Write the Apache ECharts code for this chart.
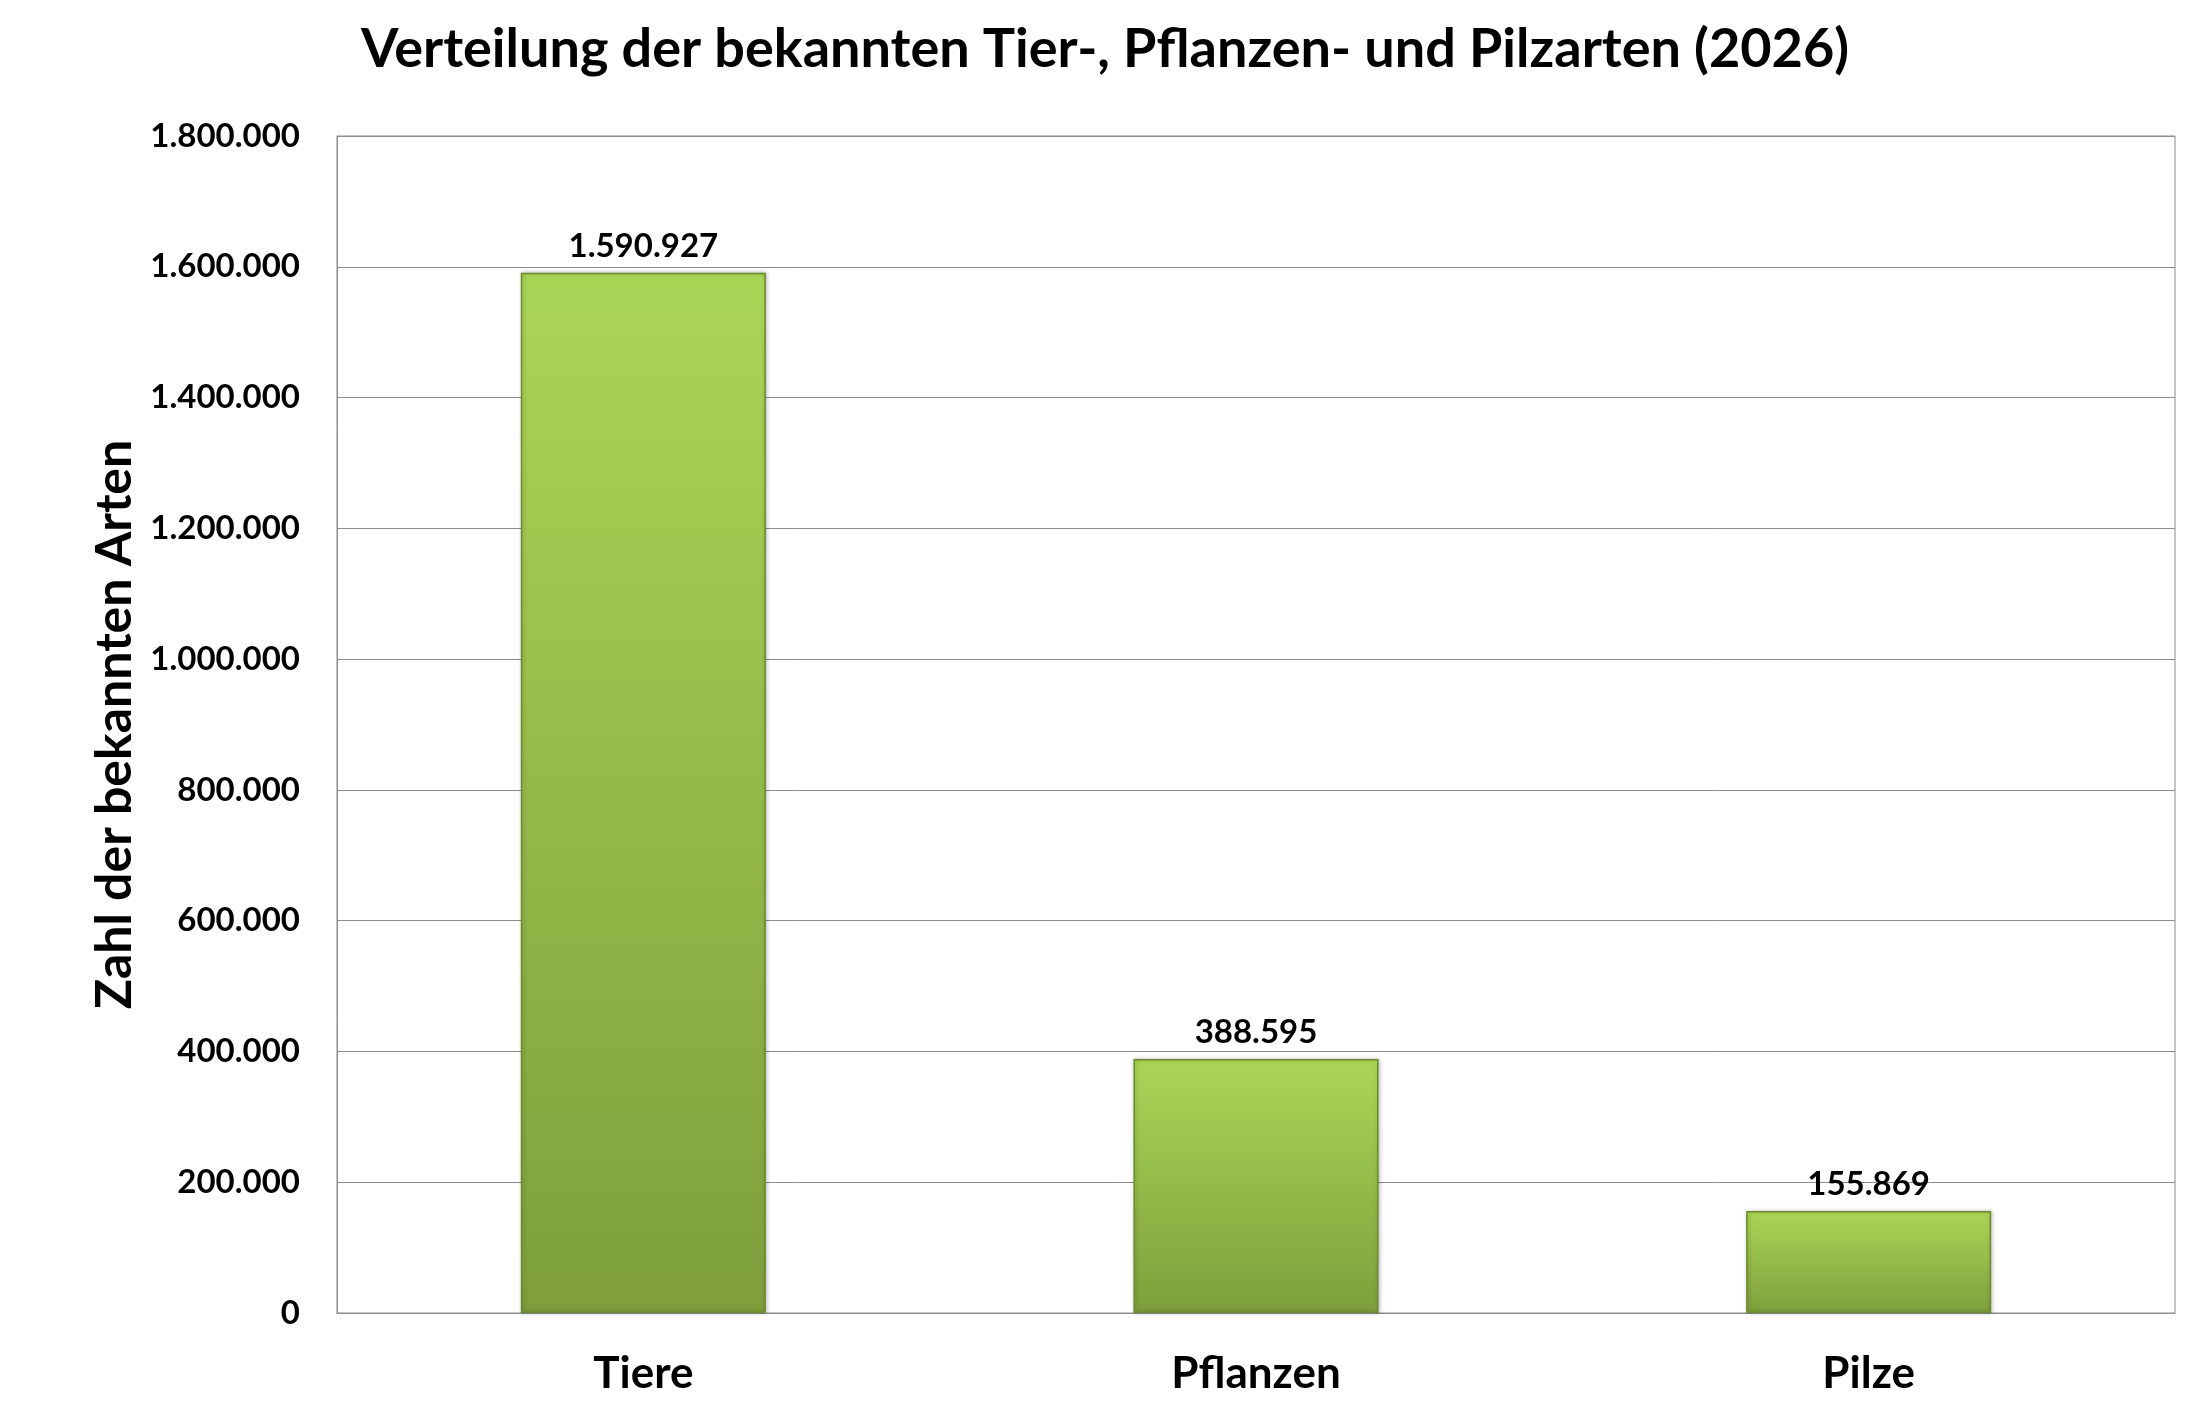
<!DOCTYPE html>
<html>
<head>
<meta charset="utf-8">
<script src="https://cdn.jsdelivr.net/npm/echarts@6/dist/echarts.min.js"></script>
<style>
  html, body { margin: 0; padding: 0; background: #fff; }
  #chart { width: 2210px; height: 1401px; }
</style>
</head>
<body>
<div id="chart"></div>
<script>
const categories = ['Tiere', 'Pflanzen', 'Pilze'];
const speciesCounts = [1590927, 388595, 155869];
const yTicks = { min: 0, max: 1800000, interval: 200000 };

const font = 'Lato, "Open Sans", sans-serif';

// 1234567 -> 1.234.567
const fmt = v => String(v).replace(/\B(?=(\d{3})+(?!\d))/g, '.');

const chart = echarts.init(document.getElementById('chart'));

chart.setOption({
  backgroundColor: '#ffffff',
  animation: false,
  title: {
    text: 'Verteilung der bekannten Tier-, Pflanzen- und Pilzarten (2026)',
    left: 'center',
    top: 18,
    textStyle: { fontFamily: font, fontSize: 54, fontWeight: 'bold', color: '#000' }
  },
  grid: {
    left: 337,
    right: 35,
    top: 136,
    bottom: 88,
    show: true,
    borderColor: '#8c8c8c',
    borderWidth: 1
  },
  xAxis: {
    type: 'category',
    data: categories,
    axisLine: { lineStyle: { color: '#8c8c8c', width: 1 } },
    axisTick: { show: false },
    axisLabel: {
      margin: 39,
      fontFamily: font,
      fontSize: 44,
      fontWeight: 'bold',
      color: '#000'
    }
  },
  yAxis: {
    type: 'value',
    min: yTicks.min,
    max: yTicks.max,
    interval: yTicks.interval,
    name: 'Zahl der bekannten Arten',
    nameLocation: 'middle',
    nameGap: 195,
    nameTextStyle: { fontFamily: font, fontSize: 50, fontWeight: 'bold', color: '#000' },
    axisLine: { show: true, lineStyle: { color: '#8c8c8c', width: 1 } },
    axisTick: { show: false },
    splitLine: { lineStyle: { color: '#8c8c8c', width: 1 } },
    axisLabel: {
      margin: 37,
      fontFamily: font,
      fontSize: 33,
      fontWeight: 'bold',
      color: '#000',
      formatter: v => fmt(v)
    }
  },
  series: [
    {
      type: 'bar',
      data: speciesCounts,
      barWidth: '40%',
      itemStyle: {
        color: new echarts.graphic.LinearGradient(0, 0, 0, 1, [
          { offset: 0, color: '#aad656' },
          { offset: 1, color: '#7e9f3c' }
        ]),
        borderColor: '#6a8a2e',
        borderWidth: 1.5,
        shadowColor: 'rgba(0,0,0,0.25)',
        shadowBlur: 4,
        shadowOffsetX: 1
      },
      label: {
        show: true,
        position: 'top',
        distance: 10,
        fontFamily: font,
        fontSize: 33,
        fontWeight: 'bold',
        color: '#000',
        formatter: p => fmt(p.value)
      }
    }
  ]
});
</script>
</body>
</html>
